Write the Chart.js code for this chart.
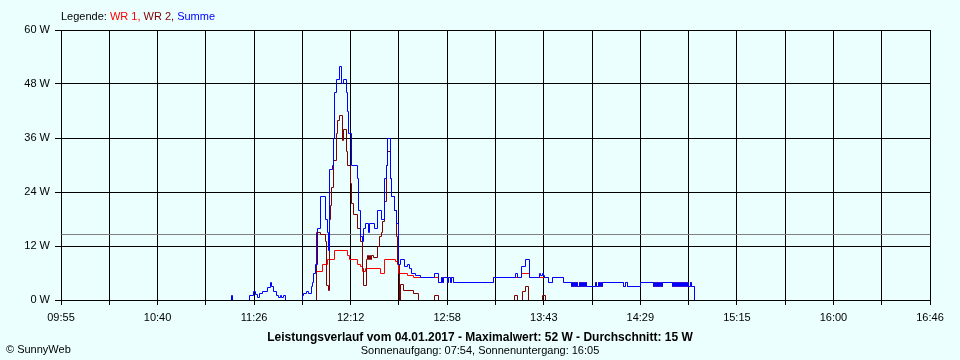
<!DOCTYPE html>
<html>
<head>
<meta charset="utf-8">
<script src="https://cdn.jsdelivr.net/npm/chart.js@4.4.1/dist/chart.umd.min.js"></script>
<style>
  html, body { margin: 0; padding: 0; background: #ebffff; }
  #wrap { width: 960px; height: 360px; }
</style>
</head>
<body>
<div id="wrap"><canvas id="chart" width="960" height="360"></canvas></div>
<script>
// Axis range and labels
const xMin = '09:55';
const xMax = '16:46';
const xTickLabels = ['09:55', '10:40', '11:26', '12:12', '12:58', '13:43', '14:29', '15:15', '16:00', '16:46'];
const yMax = 60;
const yStep = 12;

// Series (step change points)
const seriesNames = ['WR 1', 'WR 2', 'Summe'];

const wr1Times = ['11:55:30', '11:56', '11:58:30', '12:01', '12:04:30', '12:10:30', '12:11:30', '12:15', '12:16:30',
  '12:17:30', '12:19', '12:26', '12:28', '12:33', '12:34:30', '12:39', '12:41:30',
  '12:53:30', '12:55', '12:55:30', '12:56', '12:58', '12:58:30', '12:59', '12:59:30', '13:00:30', '13:19:30',
  '13:33', '13:36:30', '13:45:30', '13:47:30', '13:52:30',
  '13:56:30', '13:57', '13:57:30', '13:58', '13:58:30', '13:59', '13:59:30', '14:00', '14:00:30', '14:01', '14:01:30',
  '14:02', '14:02:30', '14:03', '14:03:30',
  '14:08', '14:08:30', '14:09', '14:09:30', '14:10', '14:10:30', '14:11',
  '14:21', '14:22', '14:23', '14:29',
  '14:35', '14:35:30', '14:36', '14:36:30', '14:37', '14:37:30', '14:38', '14:38:30', '14:39', '14:39:30',
  '14:44', '14:44:30', '14:45', '14:45:30', '14:46', '14:46:30', '14:47', '14:47:30', '14:48', '14:48:30',
  '14:49', '14:49:30', '14:50', '14:50:30', '14:51', '14:51:30', '14:52', '14:52:30', '14:53', '14:54:30'];
const wr1Values = [0, 6.4, 7.8, 9, 11, 10, 9, 8, 7.4,
  6.3, 7, 6, 9, 8.5, 6, 5.5, 5,
  4, 5, 4, 5, 4, 5, 4, 5, 4, 5,
  6, 5, 4, 5, 4,
  3, 4, 3, 4, 3, 4, 3, 4, 3, 4, 3,
  4, 3, 4, 3,
  4, 3, 4, 3, 4, 3, 4,
  3, 4, 3, 4,
  3, 4, 3, 4, 3, 4, 3, 4, 3, 4,
  3, 4, 3, 4, 3, 4, 3, 4, 3, 4,
  3, 4, 3, 4, 3, 4, 3, 4, 3, 0];

const wr2Times = ['11:55:30', '11:56', '11:57:30', '12:00', '12:00:30', '12:01:30', '12:02', '12:02:30', '12:03',
  '12:04', '12:05:30', '12:06', '12:06:30', '12:08', '12:08:30', '12:10', '12:10:30', '12:12', '12:12:30',
  '12:13:30', '12:15', '12:16:30', '12:17:30', '12:18', '12:19:30', '12:20', '12:20:30', '12:21', '12:21:30',
  '12:22', '12:23', '12:24:30', '12:25:30', '12:26:30', '12:27', '12:28', '12:29', '12:29:30', '12:31',
  '12:31:30', '12:32:30', '12:33:30', '12:34', '12:35', '12:35:30', '12:37', '12:41:30', '12:44',
  '12:51:30', '12:53:30', '13:29:30', '13:31', '13:33:30', '13:34:30', '13:36', '13:42:30', '13:44', '14:54:30'];
const wr2Values = [0, 15, 14.5, 13, 3.3, 2.2, 18, 21, 25,
  31, 37, 40, 41, 35.5, 38, 33, 30, 26, 21.5,
  19, 16, 13, 7, 3.3, 9, 10, 9, 10, 9,
  10, 9.5, 12, 14, 15, 17.5, 22, 30, 33, 27,
  23, 20, 14, 8, 0, 3.5, 2.2, 1.5, 0,
  1, 0, 1, 0, 2, 3, 0, 1, 0, 0];

const sumTimes = ['11:15', '11:15:30', '11:16', '11:24', '11:26', '11:27', '11:28', '11:29', '11:30:30', '11:32:30',
  '11:34', '11:34:30', '11:35:30', '11:37', '11:38', '11:39', '11:39:30', '11:40', '11:41',
  '11:49', '11:49:30', '11:51', '11:52', '11:53:30', '11:54', '11:54:30', '11:55:30', '11:56:30', '11:57:30',
  '12:00', '12:01', '12:01:30', '12:02', '12:03:30', '12:04', '12:04:30', '12:05:30', '12:06:30', '12:07:30',
  '12:08:30', '12:10', '12:10:30', '12:11', '12:12:30', '12:15', '12:15:30', '12:16:30', '12:17:30', '12:18',
  '12:19', '12:20:30', '12:21', '12:23:30', '12:24:30', '12:26:30', '12:28', '12:29', '12:29:30', '12:31',
  '12:31:30', '12:32:30', '12:33:30', '12:34:30', '12:35:30', '12:37:30', '12:39', '12:40', '12:41', '12:42:30',
  '12:45', '12:51:30', '12:53:30', '12:55', '12:55:30', '12:56', '12:58', '12:58:30', '12:59', '12:59:30',
  '13:00:30', '13:19:30', '13:30', '13:31', '13:33', '13:34:30', '13:36:30',
  '13:41:30', '13:42', '13:42:30', '13:43', '13:43:30', '13:45:30', '13:47:30', '13:52:30',
  '13:56:30', '13:57', '13:57:30', '13:58', '13:58:30', '13:59', '13:59:30', '14:00', '14:00:30', '14:01', '14:01:30',
  '14:02', '14:02:30', '14:03', '14:03:30',
  '14:08', '14:08:30', '14:09', '14:09:30', '14:10', '14:10:30', '14:11',
  '14:21', '14:22', '14:23', '14:29',
  '14:35', '14:35:30', '14:36', '14:36:30', '14:37', '14:37:30', '14:38', '14:38:30', '14:39', '14:39:30',
  '14:44', '14:44:30', '14:45', '14:45:30', '14:46', '14:46:30', '14:47', '14:47:30', '14:48', '14:48:30',
  '14:49', '14:49:30', '14:50', '14:50:30', '14:51', '14:51:30', '14:52', '14:52:30', '14:53', '14:54:30'];
const sumValues = [0, 1, 0, 1, 2, 1.2, 0.5, 1.5, 2, 2.8,
  3.9, 3, 2, 1.1, 0.5, 1, 0.5, 1, 0,
  1, 1.5, 2, 1.5, 3, 4, 6, 8, 16, 23,
  18, 15, 11, 29, 30, 36, 46, 49, 52, 48,
  49, 46, 42, 37, 30, 27, 20, 14, 13, 16,
  17, 15, 17, 16, 20, 18, 27, 30, 36, 27,
  23, 20, 17, 8, 9, 7.5, 8, 7, 6, 5.5,
  5, 6, 4, 5, 4, 5, 4, 5, 4, 5,
  4, 5, 6, 5, 7.4, 9, 5,
  6, 5.5, 6, 5.5, 5, 4, 5, 4,
  3, 4, 3, 4, 3, 4, 3, 4, 3, 4, 3,
  4, 3, 4, 3,
  4, 3, 4, 3, 4, 3, 4,
  3, 4, 3, 4,
  3, 4, 3, 4, 3, 4, 3, 4, 3, 4,
  3, 4, 3, 4, 3, 4, 3, 4, 3, 4,
  3, 4, 3, 4, 3, 4, 3, 4, 3, 0];

const avgValue = 14.6;
const titleText = 'Leistungsverlauf vom 04.01.2017 - Maximalwert: 52 W - Durchschnitt: 15 W';
const subtitleText = 'Sonnenaufgang: 07:54, Sonnenuntergang: 16:05';
const creditText = '\u00A9 SunnyWeb';

// Styles
const colors = { wr1: '#ff0000', wr2: '#800000', sum: '#0000ff', avg: '#808080', bg: '#ebffff' };
const fontFamily = '"Liberation Sans", Arial, sans-serif';

function toMin(s) {
  const p = s.split(':').map(Number);
  return p[0] * 60 + p[1] + (p[2] || 0) / 60;
}

function points(times, values) {
  return times.map((t, i) => ({ x: toMin(t), y: values[i] }));
}

const minX = toMin(xMin);
const maxX = toMin(xMax);
const gridCount = (xTickLabels.length - 1) * 2;

// snap line vertices to pixel centres so 1px steps stay crisp like the original bitmap
const snapPlugin = {
  id: 'pixelSnap',
  beforeDatasetsDraw(chart) {
    chart.getSortedVisibleDatasetMetas().forEach(meta => {
      meta.data.forEach(pt => {
        pt.x = Math.floor(pt.x) + 0.5;
        pt.y = Math.floor(pt.y) + 0.5;
      });
    });
  }
};

const textPlugin = {
  id: 'sunnyTexts',
  beforeDraw(chart) {
    const ctx = chart.ctx;
    ctx.save();
    ctx.fillStyle = colors.bg;
    ctx.fillRect(0, 0, chart.width, chart.height);
    ctx.restore();
  },
  afterDraw(chart) {
    const ctx = chart.ctx;
    ctx.save();
    ctx.textBaseline = 'alphabetic';
    ctx.font = '11px ' + fontFamily;

    // legend line
    let x = chart.chartArea.left;
    const legendColors = [colors.wr1, colors.wr2, colors.sum];
    ctx.fillStyle = '#000';
    ctx.fillText('Legende: ', x, 20);
    x += ctx.measureText('Legende: ').width;
    seriesNames.forEach((name, i) => {
      const t = i < seriesNames.length - 1 ? name + ', ' : name;
      ctx.fillStyle = legendColors[i];
      ctx.fillText(t, x, 20);
      x += ctx.measureText(t).width;
    });

    // bottom texts
    ctx.fillStyle = '#000';
    ctx.textAlign = 'left';
    ctx.fillText(creditText, 6, 353);
    ctx.textAlign = 'center';
    ctx.fillText(subtitleText, 480, 354);
    ctx.font = 'bold 12px ' + fontFamily;
    ctx.fillText(titleText, 480, 341);
    ctx.restore();
  }
};

const lineStyle = { borderWidth: 1, pointRadius: 0, stepped: true, fill: false, tension: 0 };

new Chart(document.getElementById('chart'), {
  type: 'line',
  data: {
    datasets: [
      { label: seriesNames[2], data: points(sumTimes, sumValues), borderColor: colors.sum, order: 0, ...lineStyle },
      { label: seriesNames[1], data: points(wr2Times, wr2Values), borderColor: colors.wr2, order: 1, ...lineStyle },
      { label: seriesNames[0], data: points(wr1Times, wr1Values), borderColor: colors.wr1, order: 2, ...lineStyle },
      { label: 'Durchschnitt', data: [{ x: minX, y: avgValue }, { x: maxX, y: avgValue }],
        borderColor: colors.avg, borderWidth: 1, pointRadius: 0, order: 3 }
    ]
  },
  options: {
    responsive: false,
    animation: false,
    parsing: false,
    layout: { padding: { left: 0, right: 30, top: 30, bottom: 0 } },
    plugins: { legend: { display: false }, tooltip: { enabled: false }, title: { display: false } },
    scales: {
      x: {
        type: 'linear',
        min: minX,
        max: maxX,
        afterBuildTicks(axis) {
          const step = (maxX - minX) / gridCount;
          axis.ticks = [];
          for (let i = 0; i <= gridCount; i++) axis.ticks.push({ value: minX + i * step });
        },
        afterFit(scale) { scale.height = 60; },
        ticks: {
          autoSkip: false,
          maxRotation: 0,
          padding: 6,
          color: '#000',
          font: { family: fontFamily, size: 11 },
          callback: (value, index) => (index % 2 === 0 ? xTickLabels[index / 2] : '')
        },
        grid: { color: '#000', lineWidth: 1, tickLength: 5, drawTicks: true },
        border: { color: '#000', width: 1 }
      },
      y: {
        min: 0,
        max: yMax,
        afterFit(scale) { scale.width = 61; },
        ticks: {
          stepSize: yStep,
          padding: 5,
          color: '#000',
          font: { family: fontFamily, size: 11 },
          callback: v => v + ' W'
        },
        grid: { color: '#000', lineWidth: 1, tickLength: 6, drawTicks: true },
        border: { color: '#000', width: 1 }
      }
    }
  },
  plugins: [snapPlugin, textPlugin]
});
</script>
</body>
</html>
